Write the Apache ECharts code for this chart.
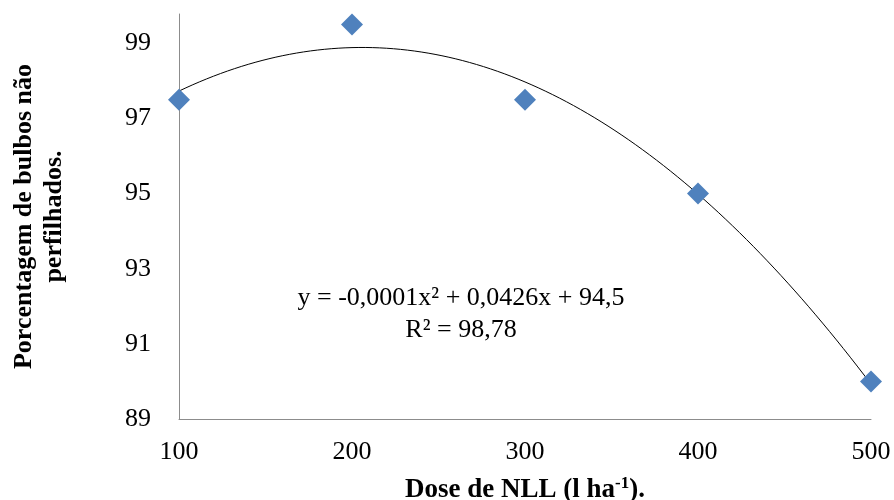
<!DOCTYPE html>
<html>
<head>
<meta charset="utf-8">
<script src="https://cdn.jsdelivr.net/npm/echarts@6/dist/echarts.min.js"></script>
<style>
  html, body { margin: 0; padding: 0; background: #fff; }
  #chart { width: 894px; height: 500px; }
</style>
</head>
<body>
<div id="chart"></div>
<script>
// Dose de NLL (l/ha) and percentage of non-tillered bulbs
const doses = [100, 200, 300, 400, 500];
const percentages = [97.5, 99.5, 97.5, 95, 90];
const yTickLabels = [89, 91, 93, 95, 97, 99];
const equationText = 'y = -0,0001x² + 0,0426x + 94,5';
const r2Text = 'R² = 98,78';

// Least-squares quadratic fit of the observations (polynomial trend line)
function quadFit(xs, ys) {
  const n = xs.length;
  let s = [0, 0, 0, 0, 0], t = [0, 0, 0];
  for (let i = 0; i < n; i++) {
    let p = 1;
    for (let k = 0; k <= 4; k++) { s[k] += p; if (k <= 2) t[k] += p * ys[i]; p *= xs[i]; }
  }
  const A = [[s[0], s[1], s[2], t[0]], [s[1], s[2], s[3], t[1]], [s[2], s[3], s[4], t[2]]];
  for (let c = 0; c < 3; c++) {
    for (let r = c + 1; r < 3; r++) {
      const f = A[r][c] / A[c][c];
      for (let k = c; k < 4; k++) A[r][k] -= f * A[c][k];
    }
  }
  const coef = [0, 0, 0];
  for (let r = 2; r >= 0; r--) {
    let v = A[r][3];
    for (let k = r + 1; k < 3; k++) v -= A[r][k] * coef[k];
    coef[r] = v / A[r][r];
  }
  return coef; // c0 + c1 x + c2 x^2
}
const fit = quadFit(doses, percentages);
const trend = [];
for (let x = doses[0]; x <= doses[doses.length - 1]; x += 4) {
  trend.push([x, fit[0] + fit[1] * x + fit[2] * x * x]);
}

const serif = '"Liberation Serif", "Times New Roman", serif';
const chart = echarts.init(document.getElementById('chart'));
chart.setOption({
  animation: false,
  backgroundColor: '#ffffff',
  grid: { left: 179, right: 23, top: 14, bottom: 81, outerBoundsMode: 'none', containLabel: false },
  xAxis: {
    type: 'value', min: 100, max: 500, interval: 100,
    axisLine: { show: true, lineStyle: { color: '#8c8c8c', width: 1 } },
    axisTick: { show: false },
    splitLine: { show: false },
    axisLabel: { color: '#000', fontFamily: serif, fontSize: 26, margin: 20 },
    name: '{t|Dose de NLL (l ha}{s|-1}{t|).}',
    nameLocation: 'middle', nameGap: 56,
    nameTextStyle: {
      rich: {
        t: { fontFamily: serif, fontWeight: 'bold', fontSize: 27, color: '#000', lineHeight: 30 },
        s: { fontFamily: serif, fontWeight: 'bold', fontSize: 17, color: '#000', lineHeight: 30, padding: [0, 0, 12, 0] }
      }
    }
  },
  yAxis: {
    type: 'value', min: 89, max: 99.78, interval: 2,
    axisLine: { show: true, lineStyle: { color: '#8c8c8c', width: 1 } },
    axisTick: { show: false },
    splitLine: { show: false },
    axisLabel: {
      color: '#000', fontFamily: serif, fontSize: 26, margin: 28,
      formatter: v => yTickLabels.includes(Math.round(v * 100) / 100) ? String(v) : ''
    },
    name: 'Porcentagem de bulbos não\nperfilhados.',
    nameLocation: 'middle', nameGap: 110, nameRotate: 90,
    nameTextStyle: { fontFamily: serif, fontWeight: 'bold', fontSize: 26, color: '#000', lineHeight: 30 }
  },
  graphic: [
    { type: 'text', x: 461, y: 298, style: { text: equationText, align: 'center', verticalAlign: 'middle', font: '26px ' + serif, fill: '#000' } },
    { type: 'text', x: 461, y: 330, style: { text: r2Text, align: 'center', verticalAlign: 'middle', font: '26px ' + serif, fill: '#000' } }
  ],
  series: [
    {
      type: 'line', data: trend, showSymbol: false, smooth: false,
      lineStyle: { color: '#000', width: 1 }, z: 2
    },
    {
      type: 'scatter', data: doses.map((d, i) => [d, percentages[i]]),
      symbol: 'diamond', symbolSize: [22, 22],
      itemStyle: { color: '#4F81BD', opacity: 1 }, z: 3
    }
  ]
});
</script>
</body>
</html>
